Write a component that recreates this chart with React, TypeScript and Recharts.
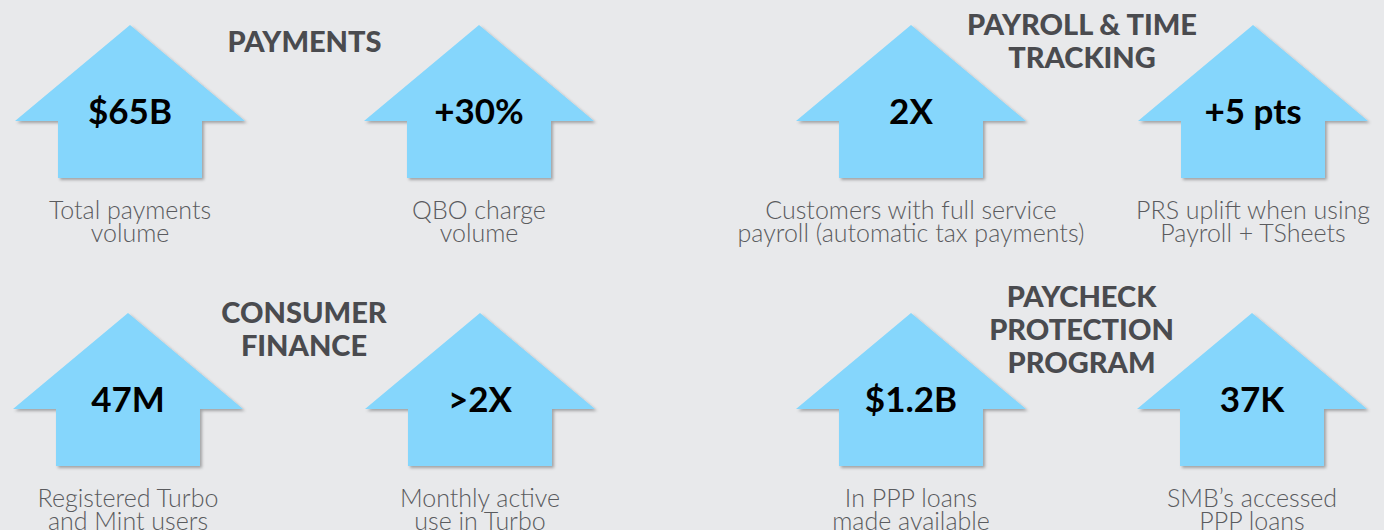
import { ScatterChart, Scatter, XAxis, YAxis } from "recharts";

const groupTitles = [
  ["PAYMENTS"],
  ["PAYROLL & TIME", "TRACKING"],
  ["CONSUMER", "FINANCE"],
  ["PAYCHECK", "PROTECTION", "PROGRAM"],
];

const metricValues = ["$65B", "+30%", "2X", "+5 pts", "47M", ">2X", "$1.2B", "37K"];

const metricLabels = [
  ["Total payments", "volume"],
  ["QBO charge", "volume"],
  ["Customers with full service", "payroll (automatic tax payments)"],
  ["PRS uplift when using", "Payroll + TSheets"],
  ["Registered Turbo", "and Mint users"],
  ["Monthly active", "use in Turbo"],
  ["In PPP loans", "made available"],
  ["SMB’s accessed", "PPP loans"],
];

const metricGroup = [0, 0, 1, 1, 2, 2, 3, 3];
const metricColumn = [0, 1, 0, 1, 0, 1, 0, 1];

const FONT = "Lato, 'Open Sans', sans-serif";
const ARROW = "#85d6fc";
const BG = "#e8e9eb";

const ArrowShape = (props: any) => {
  const { cx, cy, payload } = props;
  const path = [
    `M${cx},${cy - 85}`,
    `L${cx + 115},${cy + 11}`,
    `L${cx + 72},${cy + 11}`,
    `L${cx + 72},${cy + 68}`,
    `L${cx - 72},${cy + 68}`,
    `L${cx - 72},${cy + 11}`,
    `L${cx - 115},${cy + 11}`,
    "Z",
  ].join(" ");
  return (
    <g>
      <path d={path} fill={ARROW} filter={`url(#shadow-${payload.group})`} />
      <text
        x={cx}
        y={cy}
        textAnchor="middle"
        dominantBaseline="central"
        fontFamily={FONT}
        fontWeight={700}
        fontSize={35}
        fill="#000"
      >
        {payload.value}
      </text>
      {payload.label.map((line: string, i: number) => (
        <text
          key={i}
          x={cx}
          y={cy + 99 + i * 23}
          textAnchor="middle"
          dominantBaseline="central"
          fontFamily={FONT}
          fontWeight={300}
          fontSize={25}
          fill="#5a5b5e"
        >
          {line}
        </text>
      ))}
    </g>
  );
};

const TitleShape = (props: any) => {
  const { cx, cy, payload } = props;
  const lines: string[] = payload.lines;
  const start = cy - 70 - ((lines.length - 1) * 33) / 2;
  return (
    <g>
      {lines.map((line, i) => (
        <text
          key={i}
          x={cx}
          y={start + i * 33}
          textAnchor="middle"
          dominantBaseline="central"
          fontFamily={FONT}
          fontWeight={900}
          fontSize={29}
          fill="#4a4b4f"
        >
          {line}
        </text>
      ))}
    </g>
  );
};

const GroupChart = ({
  group,
  height,
  top,
  left,
  right,
}: {
  group: number;
  height: number;
  top: number;
  left: number;
  right: number;
}) => {
  const metrics = metricValues
    .map((value, i) => ({
      value,
      label: metricLabels[i],
      col: metricColumn[i],
      group: metricGroup[i],
      row: "r",
    }))
    .filter((m) => m.group === group);
  const cols = metrics.map((m) => m.col);
  const title = [
    {
      col: (Math.min(...cols) + Math.max(...cols)) / 2,
      lines: groupTitles[group],
      row: "r",
    },
  ];

  return (
    <ScatterChart
      width={692}
      height={height}
      margin={{ top, bottom: height - top - 220, left, right }}
    >
      <defs>
        <filter id={`shadow-${group}`} x="-10%" y="-10%" width="125%" height="125%">
          <feDropShadow dx="2" dy="2" stdDeviation="1.5" floodColor="#000" floodOpacity="0.3" />
        </filter>
      </defs>
      <XAxis type="number" dataKey="col" domain={[0, 1]} hide />
      <YAxis type="category" dataKey="row" allowDuplicatedCategory={false} hide />
      <Scatter data={title} shape={<TitleShape />} isAnimationActive={false} />
      <Scatter data={metrics} shape={<ArrowShape />} isAnimationActive={false} />
    </ScatterChart>
  );
};

export default function App() {
  return (
    <div
      style={{
        position: "absolute",
        left: 0,
        top: 0,
        width: 1384,
        height: 530,
        background: BG,
        overflow: "hidden",
      }}
    >
      <div style={{ position: "absolute", left: 0, top: 0 }}>
        <GroupChart group={0} height={258} top={0} left={130} right={213} />
      </div>
      <div style={{ position: "absolute", left: 692, top: 0 }}>
        <GroupChart group={1} height={258} top={0} left={219} right={131} />
      </div>
      <div style={{ position: "absolute", left: 0, top: 258 }}>
        <GroupChart group={2} height={272} top={30} left={128} right={212} />
      </div>
      <div style={{ position: "absolute", left: 692, top: 258 }}>
        <GroupChart group={3} height={272} top={30} left={219} right={132} />
      </div>
    </div>
  );
}
